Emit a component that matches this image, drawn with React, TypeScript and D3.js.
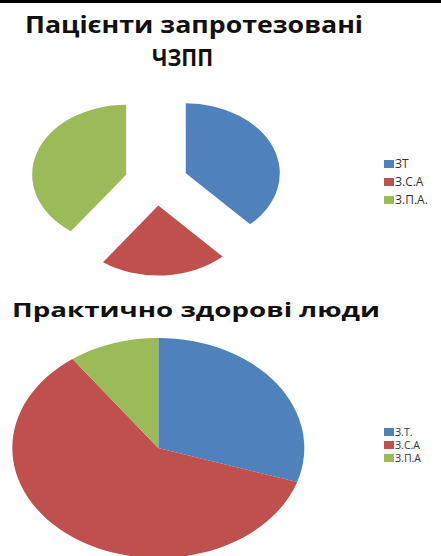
import React from 'react';
import * as d3 from 'd3';

const W = 441;
const H = 556;

// top chart: patients with prostheses
const topCategories = ["ЗТ", "З.С.А", "З.П.А."];
const topValues = [38, 22, 40];
// bottom chart: practically healthy people
const bottomCategories = ["З.Т.", "З.С.А", "З.П.А"];
const bottomValues = [30, 60, 10];

const colors = ["#4F81BD", "#C0504D", "#9BBB59"];

const color = d3.scaleOrdinal<number, string>().domain([0, 1, 2]).range(colors);

function Pie({ values, cx, cy, rx, ry, explode }: { values: number[]; cx: number; cy: number; rx: number; ry: number; explode: number }) {
  const slices = d3.pie<number>().sort(null).value((d) => d)(values);
  const arc = d3.arc<d3.PieArcDatum<number>>().innerRadius(0).outerRadius(rx);
  return (
    <g transform={`translate(${cx},${cy}) scale(1,${ry / rx})`}>
      {slices.map((s, i) => {
        const mid = (s.startAngle + s.endAngle) / 2;
        const dx = explode * Math.sin(mid);
        const dy = -explode * Math.cos(mid);
        return (
          <path key={i} d={arc(s) || ""} fill={color(i)} transform={`translate(${dx},${dy})`} />
        );
      })}
    </g>
  );
}

function Legend({ labels, x, y, step, size }: { labels: string[]; x: number; y: number; step: number; size: number }) {
  return (
    <g fontFamily="'Open Sans', 'DejaVu Sans', sans-serif" fontSize={size} fill="#333">
      {labels.map((l, i) => (
        <g key={l} transform={`translate(${x},${y + i * step})`}>
          <rect x={0} y={-4} width={10} height={8} fill={color(i)} />
          <text x={11} y={size * 0.36}>{l}</text>
        </g>
      ))}
    </g>
  );
}

export default function App() {
  React.useEffect(() => {
    document.body.style.margin = "0";
  }, []);

  return (
    <svg width={W} height={H} style={{ display: "block", background: "#fff" }}>
      <rect x={0} y={0} width={W} height={3} fill="#000" />

      <g fontFamily="'Open Sans', 'DejaVu Sans', sans-serif" fontWeight="bold" fill="#111">
        <text x={25} y={33} fontSize={24} textLength={338} lengthAdjust="spacingAndGlyphs">
          Пацієнти запротезовані
        </text>
        <text x={152} y={66} fontSize={24} textLength={61} lengthAdjust="spacingAndGlyphs">
          ЧЗПП
        </text>
        <text x={12} y={317} fontSize={19} textLength={368} lengthAdjust="spacingAndGlyphs">
          Практично здорові люди
        </text>
      </g>

      <Pie values={topValues} cx={156.3} cy={182} rx={94} ry={70} explode={31.7} />
      <Legend labels={topCategories} x={384} y={164} step={18} size={12} />

      <Pie values={bottomValues} cx={158.3} cy={448} rx={146} ry={110} explode={0} />
      <Legend labels={bottomCategories} x={384} y={432} step={13} size={10.5} />
    </svg>
  );
}
